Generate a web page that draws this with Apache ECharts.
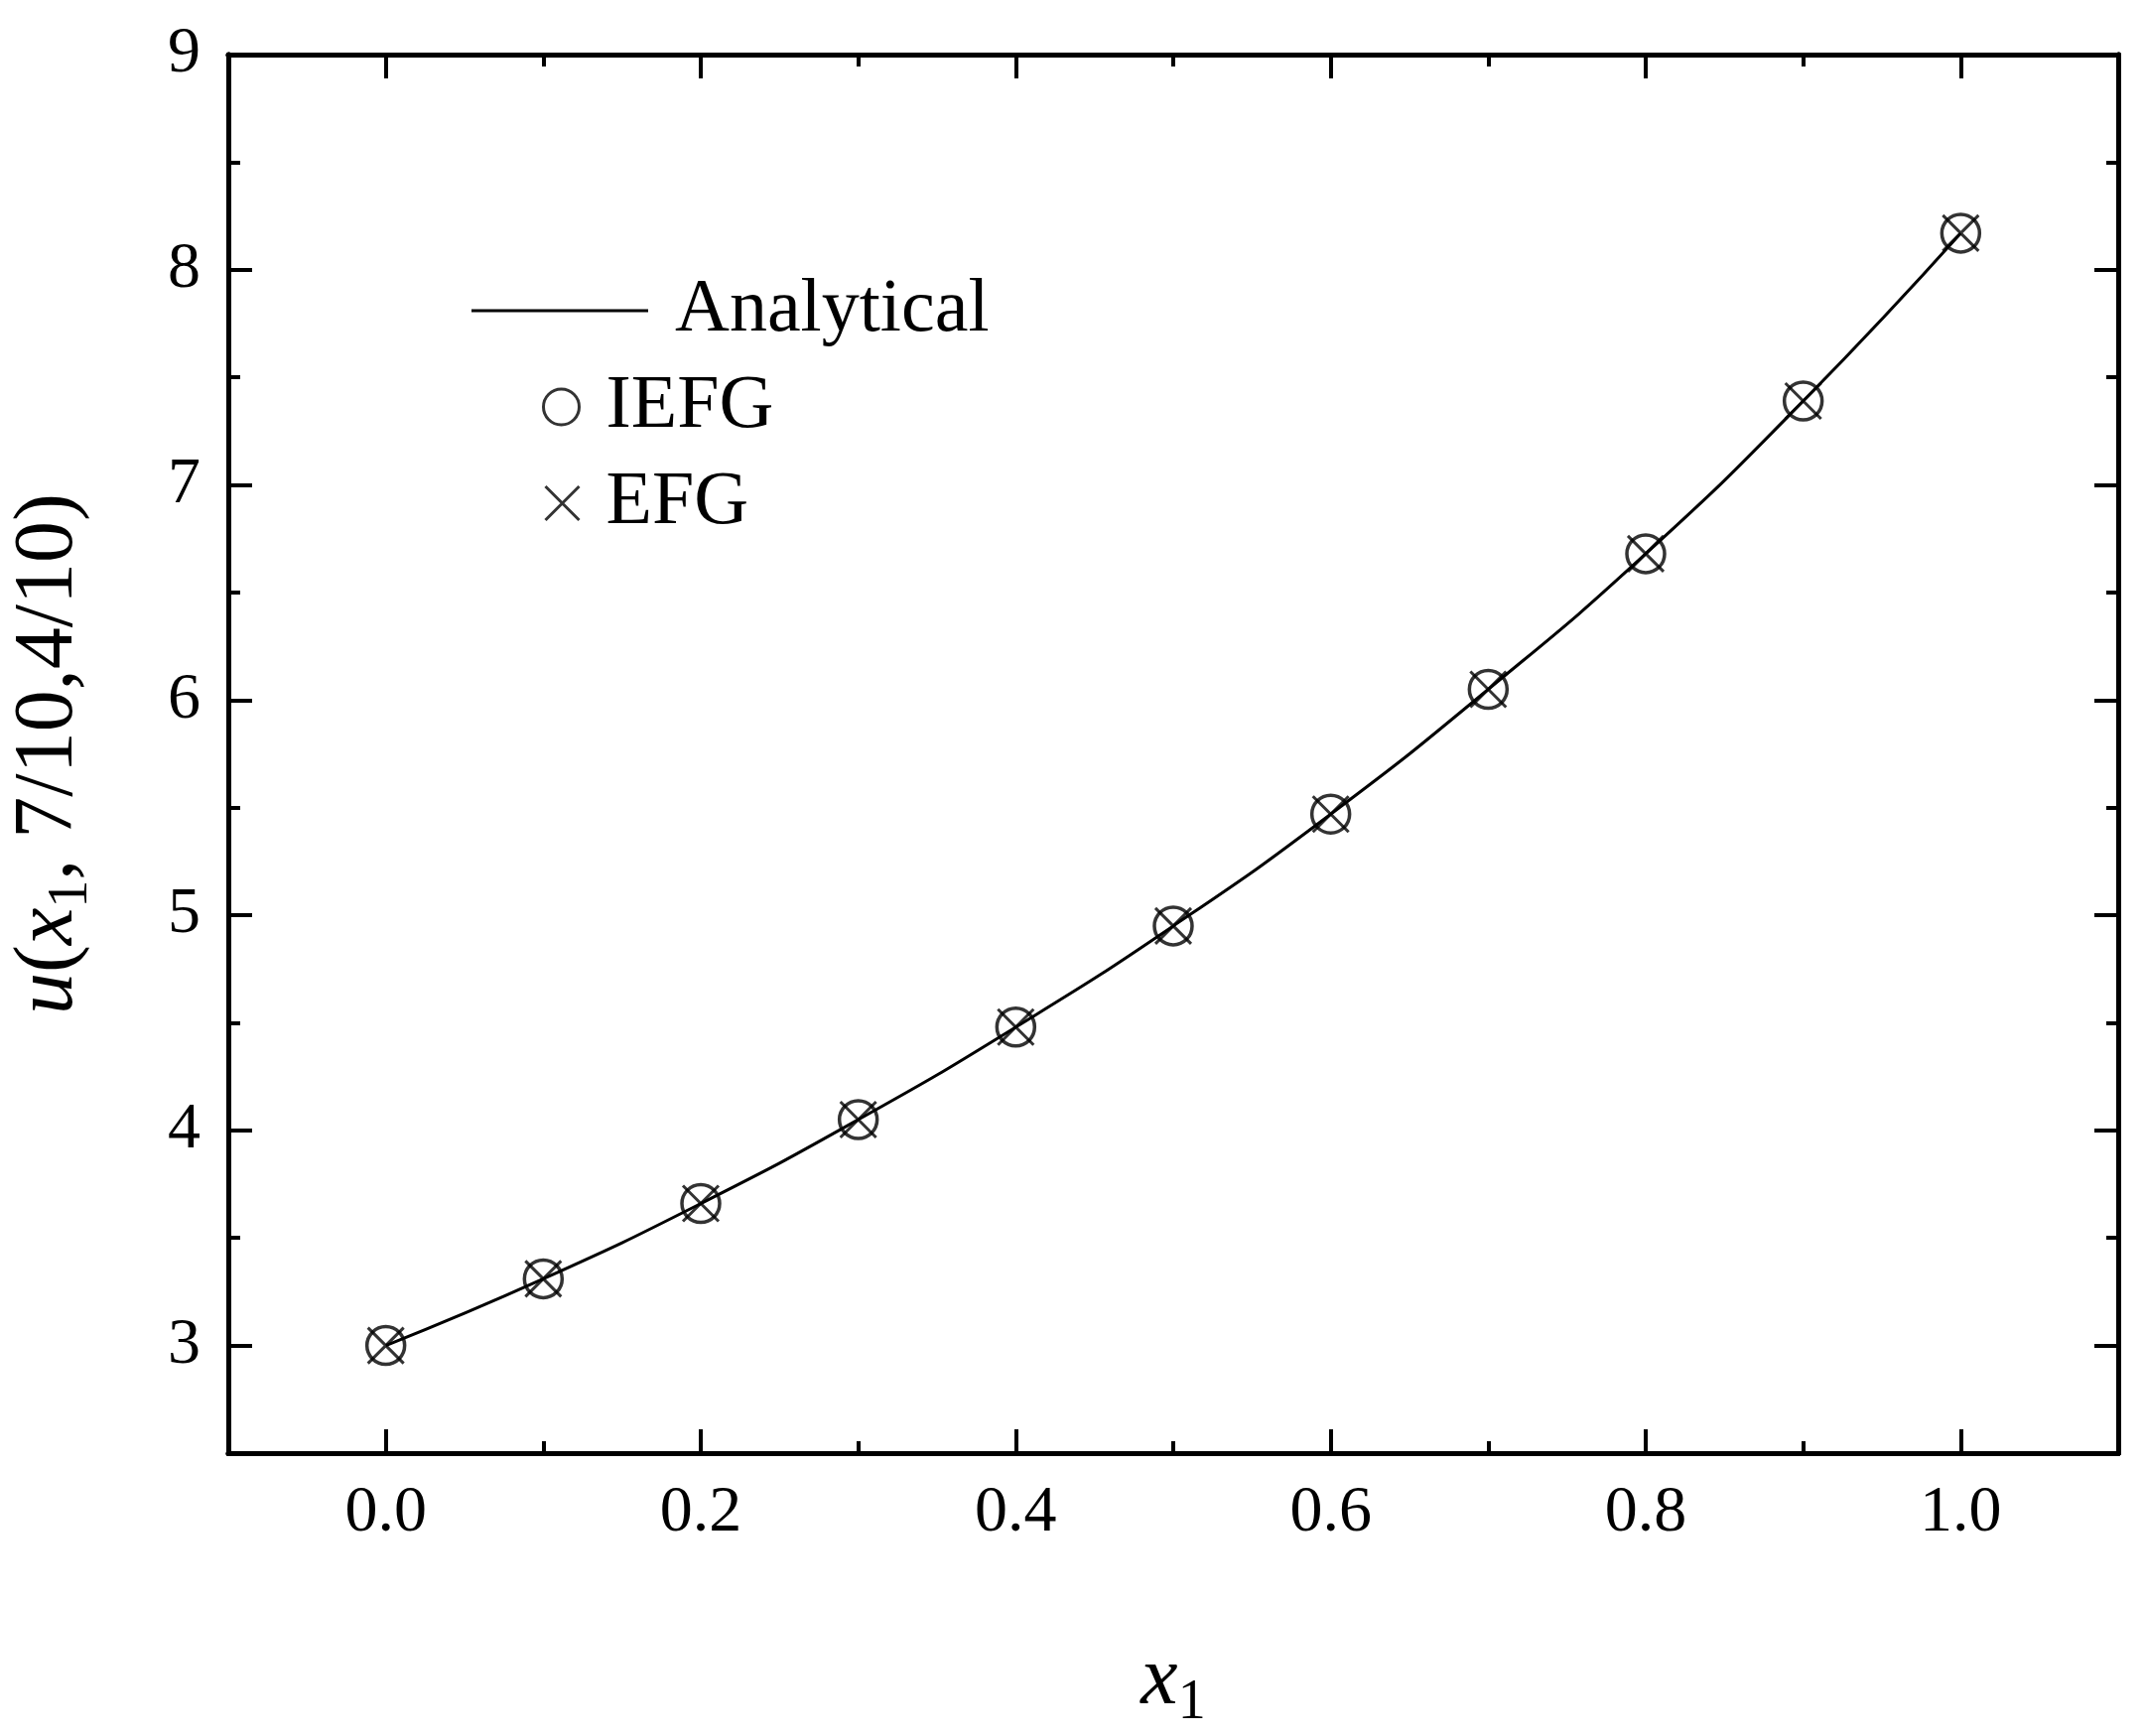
<!DOCTYPE html>
<html>
<head>
<meta charset="utf-8">
<script src="https://cdn.jsdelivr.net/npm/echarts@6/dist/echarts.min.js"></script>
<style>html,body{margin:0;padding:0;background:#fff}#chart{width:2160px;height:1749px}</style>
</head>
<body>
<div id="chart"></div>
<script>
// data
const xs = [0.0, 0.1, 0.2, 0.3, 0.4, 0.5, 0.6, 0.7, 0.8, 0.9, 1.0]
const analytical = [3.0, 3.31, 3.66, 4.05, 4.48, 4.95, 5.47, 6.05, 6.68, 7.39, 8.17]
const iefg = [3.0, 3.31, 3.66, 4.05, 4.48, 4.95, 5.47, 6.05, 6.68, 7.39, 8.17]
const efg = [3.0, 3.31, 3.66, 4.05, 4.48, 4.95, 5.47, 6.05, 6.68, 7.39, 8.17]
const xMajor = [0, 0.2, 0.4, 0.6, 0.8, 1.0]
const xMinor = [-0.1, 0.1, 0.3, 0.5, 0.7, 0.9, 1.1]
const yMajor = [3, 4, 5, 6, 7, 8, 9]
const yMinor = [2.5, 3.5, 4.5, 5.5, 6.5, 7.5, 8.5]

const font = 'Liberation Serif'
const pair = a => xs.map((x, i) => [x, a[i]])
const cross = 'path://M0,0L10,10M10,0L0,10'

function xAx(pos, ticks, len, labels) {
    return {
        type: 'value', position: pos, min: -0.1, max: 1.1,
        axisLine: { show: true, onZero: false, lineStyle: { color: '#000', width: 5 } },
        axisTick: { show: true, inside: true, length: len, customValues: ticks, lineStyle: { color: '#000', width: 4 } },
        axisLabel: labels ? { show: true, customValues: xMajor, formatter: v => v.toFixed(1), fontFamily: font, fontSize: 66, color: '#000', margin: 28 } : { show: false },
        splitLine: { show: false }
    }
}
function yAx(pos, ticks, len, labels) {
    return {
        type: 'value', position: pos, min: 2.5, max: 9,
        axisLine: { show: true, onZero: false, lineStyle: { color: '#000', width: 5 } },
        axisTick: { show: true, inside: true, length: len, customValues: ticks, lineStyle: { color: '#000', width: 4 } },
        axisLabel: labels ? { show: true, customValues: yMajor, formatter: v => String(v), fontFamily: font, fontSize: 66, color: '#000', margin: 28 } : { show: false },
        splitLine: { show: false }
    }
}

const xs0 = xAx('bottom', xMajor, 24, true)
xs0.name = '{i|x}{s|1}'
xs0.nameLocation = 'middle'
xs0.nameGap = 180
xs0.nameTextStyle = { rich: {
    i: { fontFamily: font, fontStyle: 'italic', fontSize: 84, color: '#000' },
    s: { fontFamily: font, fontSize: 56, color: '#000', padding: [44, 0, 0, 0] }
} }
const ys0 = yAx('left', yMajor, 24, true)
ys0.name = '{i|u}{n|(}{i|x}{s|1}{n|, 7/10,4/10)}'
ys0.nameLocation = 'middle'
ys0.nameRotate = 90
ys0.nameGap = 130
ys0.nameTextStyle = { rich: {
    i: { fontFamily: font, fontStyle: 'italic', fontSize: 84, color: '#000' },
    n: { fontFamily: font, fontSize: 84, color: '#000' },
    s: { fontFamily: font, fontSize: 56, color: '#000', padding: [44, 0, 0, 0] }
} }

const legendText = { fontFamily: font, fontSize: 76, color: '#000', padding: [0, 0, 0, 22] }
const chart = echarts.init(document.getElementById('chart'))
chart.setOption({
    animation: false,
    backgroundColor: '#fff',
    grid: { left: 220, right: 26, top: 55, bottom: 265 },
    xAxis: [xs0, xAx('bottom', xMinor, 12, false), xAx('top', xMajor, 24, false), xAx('top', xMinor, 12, false)],
    yAxis: [ys0, yAx('left', yMinor, 12, false), yAx('right', yMajor, 24, false), yAx('right', yMinor, 12, false)],
    legend: [
        { left: 470, top: 270, data: [{ name: 'Analytical', icon: 'rect' }], itemWidth: 178, itemHeight: 3, textStyle: legendText },
        { left: 540, top: 367, data: [{ name: 'IEFG', icon: 'circle', itemStyle: { color: 'none', borderColor: '#000', borderWidth: 3 } }],
          itemWidth: 36, itemHeight: 36, textStyle: legendText },
        { left: 542, top: 464, data: [{ name: 'EFG', icon: cross, itemStyle: { color: 'none', borderColor: '#000', borderWidth: 3 } }],
          itemWidth: 34, itemHeight: 34, textStyle: legendText }
    ],
    series: [
        { name: 'Analytical', type: 'line', smooth: true, showSymbol: false, data: pair(analytical),
          lineStyle: { color: '#000', width: 3 }, itemStyle: { color: '#000' } },
        { name: 'IEFG', type: 'scatter', symbol: 'circle', symbolSize: 38, data: pair(iefg),
          itemStyle: { color: 'none', borderColor: '#000', borderWidth: 3.5 } },
        { name: 'EFG', type: 'scatter', symbol: cross, symbolSize: 36, data: pair(efg),
          itemStyle: { color: 'none', borderColor: '#000', borderWidth: 3 } }
    ]
})
</script>
</body>
</html>
